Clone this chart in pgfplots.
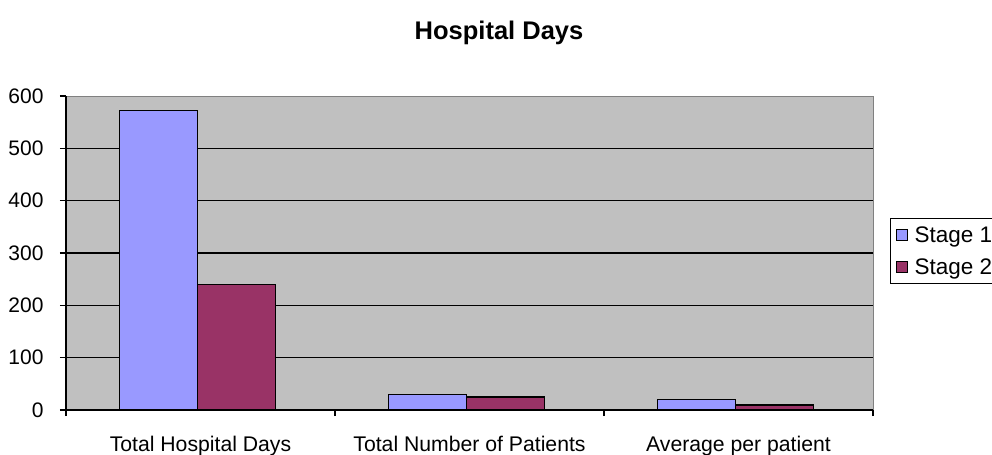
\documentclass[border=0pt]{standalone}
\usepackage{fontspec}
\setmainfont{Liberation Sans}
\usepackage{pgfplots}
\pgfplotsset{compat=1.18}
\definecolor{sone}{RGB}{153,153,255}
\definecolor{stwo}{RGB}{153,51,102}
\definecolor{plotbg}{RGB}{192,192,192}
\definecolor{frame}{RGB}{128,128,128}
\begin{document}
\begin{tikzpicture}
\useasboundingbox (0,0) rectangle (992bp,455bp);
\node[font=\bfseries\fontsize{25.5bp}{30bp}\selectfont] at (499bp,422bp) {Hospital Days};
\begin{axis}[
  at={(66bp,45bp)}, anchor=south west,
  scale only axis, width=807bp, height=314bp,
  xmin=-0.5, xmax=2.5, ymin=0, ymax=600,
  ybar=0pt, bar width=78bp,
  axis background/.style={fill=plotbg, draw=frame, line width=1bp},
  axis x line*=bottom, axis y line*=left,
  axis line style={-, black, line width=1.3bp},
  xtick={0,1,2},
  xticklabels={Total Hospital Days, Total Number of Patients, Average per patient},
  major x tick style={draw=none},
  minor xtick={-0.5,0.5,1.5,2.5},
  minor tick length=6bp,
  minor x tick style={black, line width=1.3bp},
  ytick={0,100,...,600},
  major tick length=6bp,
  tick align=outside,
  y tick style={black, line width=1.3bp},
  extra y ticks={100,200,300,400,500},
  extra y tick labels={},
  extra y tick style={ymajorgrids=true, major tick length=0pt, grid style={black, line width=1.3bp}},
  ticklabel style={font=\fontsize{21bp}{25bp}\selectfont},
  /pgf/number format/assume math mode=true,
  xticklabel style={yshift=-17bp, font=\fontsize{21.2bp}{25bp}\selectfont},
  yticklabel style={xshift=-13bp},
  legend style={at={(1.0211,0.506)}, anchor=west, draw=black, line width=1bp, fill=white,
    font=\fontsize{22.5bp}{26bp}\selectfont, row sep=11bp, inner xsep=5bp, inner ysep=6bp,
    nodes={inner xsep=7bp}},
  legend cell align=left,
  legend image code/.code={\draw[#1, line width=1bp] (0bp,-5.5bp) rectangle (11bp,5.5bp);},
  clip=false,
]
\addplot[fill=sone, draw=black, line width=1.3bp, bar shift=-42bp] coordinates {(0,572) (1,29) (2,19.7)};
\addplot[fill=stwo, draw=black, line width=1.3bp, bar shift=36bp] coordinates {(0,240) (1,25) (2,9.6)};
\legend{Stage 1, Stage 2}
\end{axis}
\end{tikzpicture}
\end{document}
